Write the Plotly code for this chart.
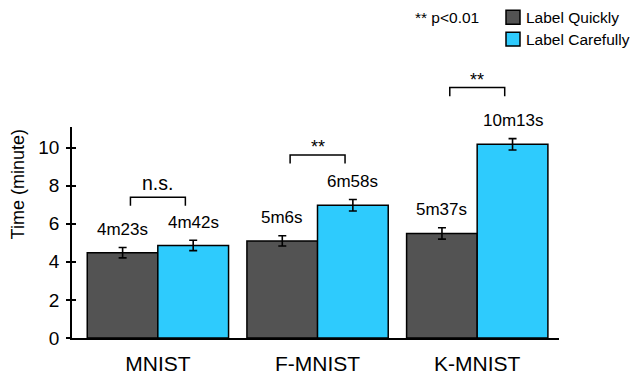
import plotly.graph_objects as go

categories = ["MNIST", "F-MNIST", "K-MNIST"]
series_names = ["Label Quickly", "Label Carefully"]
quick_vals = [4.48, 5.10, 5.49]
careful_vals = [4.86, 6.97, 10.17]
quick_err = [0.27, 0.27, 0.30]
careful_err = [0.27, 0.30, 0.30]
quick_text = ["4m23s", "5m6s", "5m37s"]
careful_text = ["4m42s", "6m58s", "10m13s"]
sig_text = ["n.s.", "**", "**"]
sig_level = [6.94, 9.16, 12.70]   # bracket leg bottom (data units)
y_ticks = [0, 2, 4, 6, 8, 10]

FONT = "Liberation Sans, Arial, sans-serif"
DARK = "#535353"
BLUE = "#2ECBFD"
COLORS = [DARK, BLUE]
OFF = 0.221
W = 0.443
Y_MAX = 11.08

# page is rendered with an 8px body margin; work in page pixels and shift
SH = 8
FW, FH = 639 - SH, 377 - SH
PL, PR, PT, PB = 72, 559, 127, 338.3   # plot area in page pixels
L, T = PL - SH, PT - SH
R = FW - (PR - SH)
B = FH - (PB - SH)
PW, PH = PR - PL, PB - PT


def px(xp):
    return (xp - PL) / PW


def py(yp):
    return (PB - yp) / PH


idx = list(range(len(categories)))
fig = go.Figure()
fig.add_trace(go.Bar(
    x=[i - OFF for i in idx], y=quick_vals, width=W, name=series_names[0],
    marker=dict(color=DARK, line=dict(color="black", width=1.5)),
    error_y=dict(type="data", array=quick_err, color="black", thickness=1.6, width=4),
))
fig.add_trace(go.Bar(
    x=[i + OFF for i in idx], y=careful_vals, width=W, name=series_names[1],
    marker=dict(color=BLUE, line=dict(color="black", width=1.5)),
    error_y=dict(type="data", array=careful_err, color="black", thickness=1.6, width=4),
))
# invisible trace for the inner half of crossing y ticks
fig.add_trace(go.Scatter(x=[0], y=[0], yaxis="y2", mode="markers",
                         marker=dict(opacity=0), showlegend=False, hoverinfo="skip"))

annotations = []
for i in idx:
    annotations.append(dict(x=i - OFF, y=quick_vals[i] + quick_err[i], xref="x", yref="y",
                            text=quick_text[i], showarrow=False, yanchor="middle", yshift=18,
                            font=dict(family=FONT, size=17, color="black")))
    annotations.append(dict(x=i + OFF, y=careful_vals[i] + careful_err[i], xref="x", yref="y",
                            text=careful_text[i], showarrow=False, yanchor="middle", yshift=18,
                            font=dict(family=FONT, size=17, color="black")))

shapes = []
HW = 0.172
LEG = 0.45
for i in idx:
    y0 = sig_level[i] / Y_MAX
    y1 = (sig_level[i] + LEG) / Y_MAX
    shapes.append(dict(type="path", xref="x", yref="paper",
                       path=f"M {i - HW} {y0} L {i - HW} {y1} L {i + HW} {y1} L {i + HW} {y0}",
                       line=dict(color="black", width=1.5)))
    ns = sig_text[i] == "n.s."
    annotations.append(dict(x=i, y=y1, xref="x", yref="paper", text=sig_text[i],
                            showarrow=False, yanchor="bottom", yshift=1 if ns else -4,
                            font=dict(family=FONT, size=19.5 if ns else 18, color="black")))

# y-axis title
annotations.append(dict(x=px(17.5), y=py(185), xref="paper", yref="paper", text="Time (minute)",
                        showarrow=False, textangle=-90, xanchor="center", yanchor="middle",
                        font=dict(family=FONT, size=18, color="black")))
# significance note
annotations.append(dict(x=px(481), y=py(17), xref="paper", yref="paper", text="** p<0.01",
                        showarrow=False, xanchor="right", yanchor="middle",
                        font=dict(family=FONT, size=15.5, color="black")))
# manual legend
for k, name in enumerate(series_names):
    yc = 17 + 22 * k
    shapes.append(dict(type="rect", xref="paper", yref="paper",
                       x0=px(506), x1=px(520), y0=py(yc - 7), y1=py(yc + 7),
                       fillcolor=COLORS[k], line=dict(color="black", width=1.5)))
    annotations.append(dict(x=px(524), y=py(yc), xref="paper", yref="paper", text=name,
                            showarrow=False, xanchor="left", yanchor="middle",
                            font=dict(family=FONT, size=15.5, color="black")))

fig.update_layout(
    width=FW, height=FH, margin=dict(l=L, r=R, t=T, b=B, autoexpand=False),
    plot_bgcolor="white", paper_bgcolor="white",
    barmode="overlay",
    font=dict(family=FONT, color="black"),
    annotations=annotations, shapes=shapes,
    showlegend=False,
    xaxis=dict(range=[-0.538, 2.512], tickvals=idx, ticktext=categories, showline=True,
               linecolor="black", linewidth=1.5, ticks="", showgrid=False, zeroline=False,
               tickfont=dict(family=FONT, size=21), ticklabelstandoff=6),
    yaxis=dict(range=[0, Y_MAX], tickvals=y_ticks, showline=True, linecolor="black",
               linewidth=1.5, ticks="outside", ticklen=4, tickwidth=1.5, tickcolor="black",
               showgrid=False, zeroline=False, tickfont=dict(family=FONT, size=19),
               ticklabelstandoff=3),
    yaxis2=dict(range=[0, Y_MAX], tickvals=y_ticks, overlaying="y", side="left",
                ticks="inside", ticklen=4, tickwidth=1.5, tickcolor="black",
                showticklabels=False, showline=False, showgrid=False, zeroline=False),
)
fig.write_html("out.html")
